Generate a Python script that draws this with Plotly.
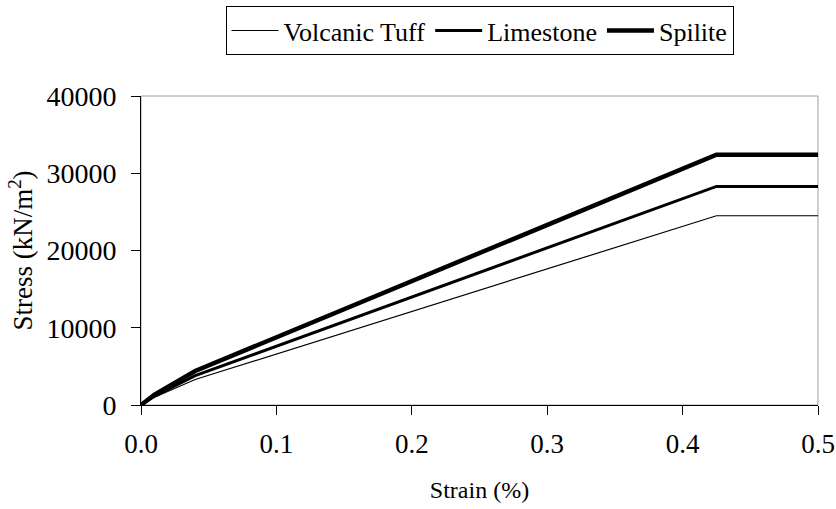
import plotly.graph_objects as go

strain = [0.0, 0.01, 0.04, 0.425, 0.5]
volcanic_tuff = [0, 1000, 3300, 24500, 24500]
limestone = [0, 1150, 3800, 28300, 28300]
spilite = [0, 1350, 4400, 32400, 32400]

x_ticks = [0.0, 0.1, 0.2, 0.3, 0.4, 0.5]
x_tick_labels = ["0.0", "0.1", "0.2", "0.3", "0.4", "0.5"]
y_ticks = [0, 10000, 20000, 30000, 40000]
y_tick_labels = ["0", "10000", "20000", "30000", "40000"]

FONT = "Liberation Serif"

fig = go.Figure()
fig.add_trace(go.Scatter(x=strain, y=volcanic_tuff, mode="lines", name="Volcanic Tuff",
                         line=dict(color="black", width=1.2)))
fig.add_trace(go.Scatter(x=strain, y=limestone, mode="lines", name="Limestone",
                         line=dict(color="black", width=3)))
fig.add_trace(go.Scatter(x=strain, y=spilite, mode="lines", name="Spilite",
                         line=dict(color="black", width=4.5)))

fig.update_layout(
    width=836, height=509,
    margin=dict(l=141, r=18, t=96, b=104, autoexpand=False),
    paper_bgcolor="white", plot_bgcolor="white",
    font=dict(family=FONT, color="black", size=26),
    showlegend=True,
    legend=dict(orientation="h", x=0.5, xanchor="center",
                yref="container", y=0.988, yanchor="top",
                bordercolor="black", borderwidth=1, font=dict(family=FONT, size=26),
                itemwidth=47, tracegroupgap=0),
    xaxis=dict(range=[0, 0.5], tickvals=x_ticks, ticktext=x_tick_labels,
               showgrid=False, zeroline=False, showline=True, linecolor="black",
               linewidth=1, ticks="outside", ticklen=9, tickcolor="black",
               tickfont=dict(family=FONT, size=27), automargin=False, ticklabelstandoff=6,
               title=dict(text="Strain (%)", font=dict(family=FONT, size=24), standoff=22)),
    yaxis=dict(range=[0, 40000], tickvals=y_ticks, ticktext=y_tick_labels,
               showgrid=False, zeroline=False, showline=True, linecolor="black",
               linewidth=1, ticks="outside", ticklen=9, tickcolor="black",
               tickfont=dict(family=FONT, size=28), automargin=False, ticklabelstandoff=9,
               title=dict(text="Stress (kN/m<sup>2</sup>)", font=dict(family=FONT, size=27), standoff=5)),
    shapes=[dict(type="rect", xref="paper", yref="paper", x0=0, y0=0, x1=1, y1=1,
                 line=dict(color="#a0a0a0", width=1), layer="below")],
)

fig.write_html("out.html")
